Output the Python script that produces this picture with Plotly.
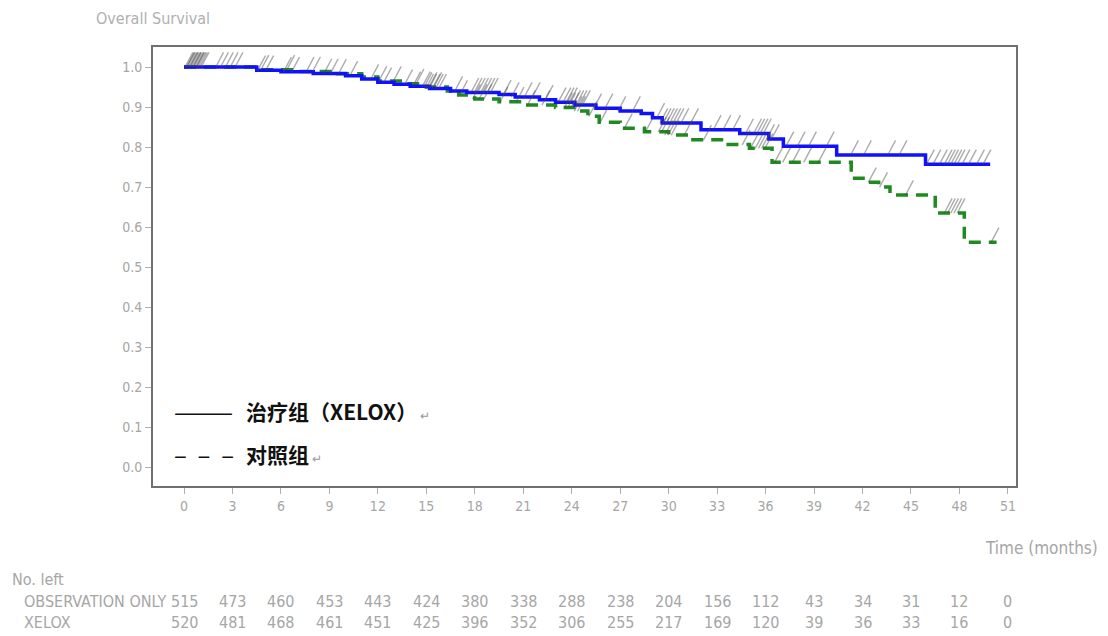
import numpy as np
import plotly.graph_objects as go

# Kaplan-Meier step estimates: event times (months) and survival after each step
xelox_t = [0, 4.5, 6.0, 8.0, 10.0, 11.0, 12.0, 13.0, 14.0, 15.2, 16.5, 17.5, 19.5, 20.5,
           22.0, 23.0, 24.2, 25.5, 27.0, 28.3, 29.0, 29.6, 32.0, 34.4, 36.2, 37.1, 40.4, 45.9]
xelox_s = [1.000, 0.992, 0.988, 0.984, 0.978, 0.970, 0.962, 0.957, 0.952, 0.946, 0.940, 0.936,
           0.931, 0.925, 0.918, 0.912, 0.905, 0.897, 0.890, 0.884, 0.873, 0.860, 0.843, 0.834,
           0.820, 0.802, 0.780, 0.757]
xelox_end = 49.9

obs_t = [0, 4.8, 7.0, 9.5, 11.0, 12.0, 13.5, 15.0, 16.3, 17.0, 18.0, 19.5, 21.0, 23.0, 24.3,
         25.0, 25.7, 27.0, 28.5, 30.0, 31.5, 33.5, 35.0, 36.4, 41.3, 42.3, 43.0, 43.7, 46.5, 48.3]
obs_s = [1.000, 0.993, 0.989, 0.983, 0.975, 0.965, 0.958, 0.950, 0.940, 0.930, 0.920, 0.913,
         0.905, 0.899, 0.890, 0.877, 0.862, 0.847, 0.838, 0.830, 0.818, 0.806, 0.797, 0.762,
         0.722, 0.712, 0.700, 0.680, 0.635, 0.562]
obs_end = 50.3

# Censoring times (months)
xelox_cens = [0.3, 0.4, 0.5, 0.6, 0.7, 0.8, 0.9, 1.0, 1.1, 1.3, 2.2, 2.8, 3.4, 4.8, 5.3, 6.4,
              6.9, 7.8, 8.9, 9.3, 10.5, 11.8, 12.6, 13.9, 14.4, 15.0, 15.2, 15.4, 15.6, 15.8,
              16.0, 17.0, 18.0, 18.2, 18.4, 18.6, 18.8, 19.0, 19.2, 20.0, 20.5, 21.3, 21.8,
              22.6, 23.4, 23.7, 23.9, 24.1, 24.3, 24.5, 24.7, 24.9, 25.6, 26.3, 27.1, 28.0,
              29.5, 29.7, 29.9, 30.1, 30.3, 30.5, 30.7, 31.0, 31.6, 33.0, 33.6, 34.2, 35.0,
              35.5, 35.7, 35.9, 36.1, 36.3, 36.6, 37.5, 38.2, 38.9, 40.0, 41.5, 42.3, 43.8,
              44.5, 46.2, 46.6, 47.0, 47.3, 47.5, 47.7, 47.9, 48.1, 48.4, 48.8, 49.3, 49.7]
obs_cens = [0.4, 0.6, 0.8, 1.0, 1.2, 2.5, 3.1, 5.0, 6.6, 8.2, 9.8, 12.3, 13.2, 14.6, 15.1,
            15.4, 15.7, 17.3, 18.1, 18.5, 18.8, 19.8, 20.8, 21.5, 22.4, 23.8, 24.0, 24.2,
            24.4, 24.6, 25.3, 26.0, 27.5, 28.8, 29.6, 29.8, 30.0, 30.2, 30.4, 31.2, 32.4,
            34.8, 35.3, 35.6, 35.8, 36.0, 36.2, 36.8, 37.3, 37.9, 38.6, 39.5, 42.6, 43.3,
            44.9, 47.3, 47.5, 47.7, 47.9, 48.1, 50.2]

# Number-at-risk table
risk_times = list(range(0, 52, 3))
obs_risk = [515, 473, 460, 453, 443, 424, 380, 338, 288, 238, 204, 156, 112, 43, 34, 31, 12, 0]
xelox_risk = [520, 481, 468, 461, 451, 425, 396, 352, 306, 255, 217, 169, 120, 39, 36, 33, 16, 0]

GREY = "#a6a6a6"
TXT_FONT = "Liberation Sans Narrow, DejaVu Sans Condensed, Liberation Sans, sans-serif"
CJK = "Noto Sans CJK SC"


def surv_at(times, surv, t):
    idx = np.searchsorted(np.asarray(times), np.asarray(t), side="right") - 1
    return np.asarray(surv)[idx]


fig = go.Figure()

# Observation arm (dashed green) under the XELOX arm (solid blue)
fig.add_trace(go.Scatter(
    x=obs_t + [obs_end], y=obs_s + [obs_s[-1]], mode="lines", line_shape="hv",
    line=dict(color="#1f8a1f", width=3.5, dash="12px,8px"), hoverinfo="skip"))
fig.add_trace(go.Scatter(
    x=xelox_t + [xelox_end], y=xelox_s + [xelox_s[-1]], mode="lines", line_shape="hv",
    line=dict(color="#1010ff", width=3.5), hoverinfo="skip"))

# Censor ticks, drawn as slanted strokes just above each curve
lift = 0.018
for cens, tt, ss in [(obs_cens, obs_t, obs_s), (xelox_cens, xelox_t, xelox_s)]:
    fig.add_trace(go.Scatter(
        x=cens, y=surv_at(tt, ss, cens) + lift, mode="markers",
        marker=dict(symbol="line-ns", size=12, angle=28,
                    line=dict(color="rgba(70,70,70,0.45)", width=1.4)),
        hoverinfo="skip"))

ann = []
# Title and axis caption
ann.append(dict(text="Overall Survival", xref="paper", yref="paper", x=0.0, y=1.064,
                xanchor="center", yanchor="middle", showarrow=False,
                font=dict(family=TXT_FONT, size=16, color="#b0b0b0")))
ann.append(dict(text="Time (months)", xref="paper", yref="paper", x=1.097, y=-0.141,
                xanchor="right", yanchor="middle", showarrow=False,
                font=dict(family=TXT_FONT, size=17, color=GREY)))

# Legend written as text: line sample, then group name
leg_rows = [("———", 24, "治疗组（XELOX）", 0.171), ("–  –  –", 24, "对照组", 0.073)]
for sample, ssize, name, yp in leg_rows:
    ann.append(dict(text=sample, xref="paper", yref="paper", x=0.022, y=yp,
                    xanchor="left", yanchor="middle", showarrow=False,
                    font=dict(family=CJK, size=ssize, color="#111111")))
    ann.append(dict(text="<b>" + name + "</b><span style='color:#999;font-size:12px'> ↵</span>",
                    xref="paper", yref="paper", x=0.105, y=yp,
                    xanchor="left", yanchor="middle", showarrow=False,
                    font=dict(family=CJK, size=21, color="#111111")))

# Risk table
ann.append(dict(text="No. left", xref="paper", yref="paper", x=-0.166, y=-0.212,
                xanchor="left", yanchor="middle", showarrow=False,
                font=dict(family=TXT_FONT, size=16, color=GREY)))
for label, vals, yp in [("OBSERVATION ONLY", obs_risk, -0.264), ("XELOX", xelox_risk, -0.310)]:
    ann.append(dict(text=label, xref="paper", yref="paper", x=-0.152, y=yp,
                    xanchor="left", yanchor="middle", showarrow=False,
                    font=dict(family=TXT_FONT, size=16, color=GREY)))
    for t, v in zip(risk_times, vals):
        ann.append(dict(text=str(v), xref="x", yref="paper", x=t, y=yp,
                        xanchor="center", yanchor="middle", showarrow=False,
                        font=dict(family=TXT_FONT, size=16, color=GREY)))

fig.update_layout(
    width=1108, height=636, autosize=False,
    margin=dict(l=153, r=92, t=47, b=150, pad=0),
    paper_bgcolor="white", plot_bgcolor="white", showlegend=False,
    annotations=ann,
    xaxis=dict(range=[-1.92, 51.5], tickmode="array", tickvals=risk_times,
               showgrid=False, zeroline=False, showline=True, mirror=True,
               linecolor="#707070", linewidth=2, ticks="outside", ticklen=6,
               tickcolor="#b0b0b0", tickwidth=1,
               tickfont=dict(family=TXT_FONT, size=14, color=GREY)),
    yaxis=dict(range=[-0.0475, 1.05], tickmode="array",
               tickvals=[0.0, 0.1, 0.2, 0.3, 0.4, 0.5, 0.6, 0.7, 0.8, 0.9, 1.0],
               tickformat=".1f", showgrid=False, zeroline=False, showline=True, mirror=True,
               linecolor="#707070", linewidth=2, ticks="outside", ticklen=6,
               tickcolor="#b0b0b0", tickwidth=1,
               tickfont=dict(family=TXT_FONT, size=14, color=GREY)),
)

fig.write_html("out.html")
